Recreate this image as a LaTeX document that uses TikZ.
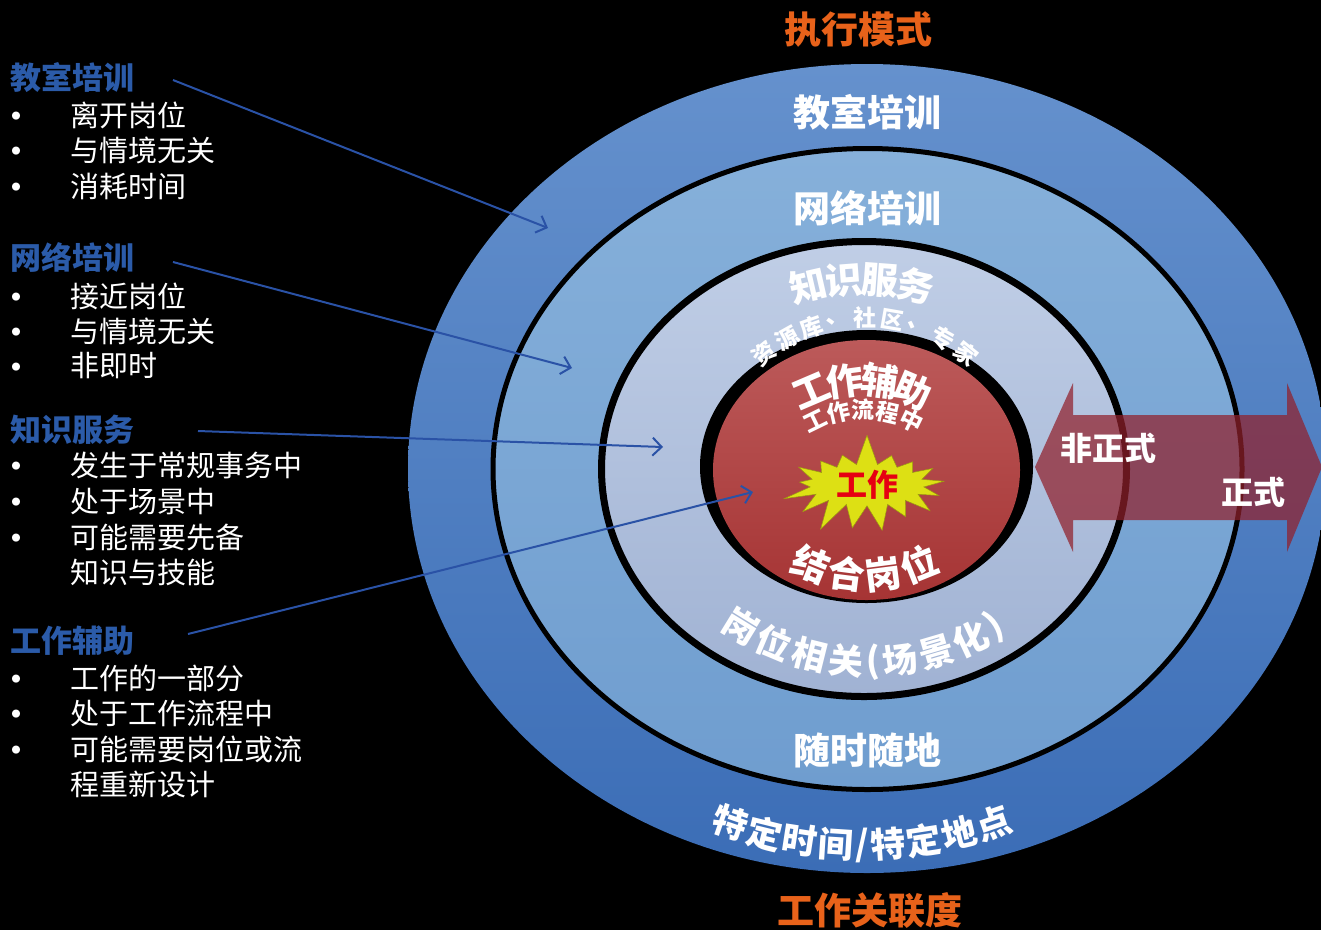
\documentclass[tikz,border=0pt]{standalone}
\usepackage{fontspec}
\setmainfont{Noto Sans CJK SC}
\usetikzlibrary{arrows.meta,shapes.symbols}
\definecolor{titleOrange}{HTML}{E8621A}
\definecolor{headBlue}{HTML}{2B5BA9}
\definecolor{ptrBlue}{HTML}{2A52A6}
\definecolor{ringA1}{HTML}{6591CD}
\definecolor{ringA2}{HTML}{3B6DB6}
\definecolor{ringB1}{HTML}{86B0DA}
\definecolor{ringB2}{HTML}{6F9DCF}
\definecolor{ringC1}{HTML}{C0CEE6}
\definecolor{ringC2}{HTML}{A0B2D3}
\definecolor{core1}{HTML}{BC5A5A}
\definecolor{core2}{HTML}{A63434}
\definecolor{burstY}{HTML}{DDE014}
\definecolor{burstR}{HTML}{E60012}
\definecolor{arrowRed}{RGB}{145,32,43}
\newcommand\fsz[1]{\fontsize{#1}{#1}\selectfont}
\tikzset{
  ringtxt/.style={text=white, inner sep=0pt, font=\bfseries\fsz{37}},
  midtxt/.style={text=white, inner sep=0pt, font=\bfseries\fsz{35}},
  smalltxt/.style={text=white, inner sep=0pt, font=\bfseries\fsz{23}},
  arrtxt/.style={text=white, inner sep=0pt, font=\bfseries\fsz{32}},
  titletxt/.style={text=titleOrange, inner sep=0pt, font=\bfseries\fsz{37}},
  headtxt/.style={text=headBlue, inner sep=0pt, anchor=west, font=\bfseries\fsz{31}},
  itemtxt/.style={text=white, inner sep=0pt, anchor=west, font=\fsz{29}},
  bullettxt/.style={text=white, inner sep=0pt, font=\fsz{9}},
  ptr/.style={draw=ptrBlue, line width=2pt, -{Straight Barb[length=9pt,width=18pt]}},
}
% characters along the top of an ellipse arc (cx, cy, a, b, style, name, list char/angle)
\newcommand\arcTop[7]{%
  \foreach \cc/\ang [count=\k] in {#7}{%
    \pgfmathsetmacro\px{#1+#3*cos(\ang)}%
    \pgfmathsetmacro\py{#2+#4*sin(\ang)}%
    \pgfmathsetmacro\rot{atan2(-(#4)*cos(\ang),-(#3)*sin(\ang))}%
    \node[#5,rotate=\rot] (#6\k) at (\px,\py) {\cc};}}
% characters along the bottom of an ellipse arc
\newcommand\arcBot[7]{%
  \foreach \cc/\ang [count=\k] in {#7}{%
    \pgfmathsetmacro\px{#1+#3*cos(\ang)}%
    \pgfmathsetmacro\py{#2+#4*sin(\ang)}%
    \pgfmathsetmacro\rot{atan2((#4)*cos(\ang),(#3)*sin(\ang))}%
    \node[#5,rotate=\rot] (#6\k) at (\px,\py) {\cc};}}
\begin{document}
\begin{tikzpicture}[x=1pt,y=-1pt]
\useasboundingbox (0,0) rectangle (1321,930);
\fill[black] (0,0) rectangle (1321,930);
\clip (0,0) rectangle (1321,930);

% rings
\shade[top color=ringA1, bottom color=ringA2] (867,468.5) ellipse [x radius=459, y radius=404.5];
\draw[black, line width=5pt, top color=ringB1, bottom color=ringB2] (867.5,469) ellipse [x radius=374.5, y radius=320.5];
\draw[black, line width=7pt, top color=ringC1, bottom color=ringC2] (864,469) ellipse [x radius=262.5, y radius=227.5];
\fill[black] (866.5,466.5) ellipse [x radius=166.5, y radius=136.5];
\shade[top color=core1, bottom color=core2] (866.5,470) ellipse [x radius=153.5, y radius=130];

% starburst
\node[starburst, starburst points=17, starburst point height=32pt, random starburst=7,
      fill=burstY, draw=burstY!70!black, line width=0.5pt,
      minimum width=178pt, minimum height=94pt, inner sep=0pt,
      text=burstR, font=\bfseries\fsz{31}] (burst) at (867,485) {工作};

% texts in the rings
\node[ringtxt] (t1) at (867,112) {教室培训};
\node[ringtxt] (t2) at (867,208) {网络培训};
\node[ringtxt] (t3) at (867,750) {随时随地};
\arcTop{862}{520}{240}{240}{ringtxt}{ks}{知/257.1,识/265.7,服/274.3,务/282.9}
\arcTop{865}{478}{160}{160}{smalltxt}{zy}{资/231,源/240.75,库/250.5,、/260.25,社/270,区/279.75,、/289.5,专/299.25,家/309}
\arcTop{862}{510}{130}{130}{ringtxt}{gf}{工/246.9,作/262.3,辅/277.7,助/293.1}
\arcTop{863}{520}{110}{110}{smalltxt}{lc}{工/244,作/257,流/270,程/283,中/296}
\arcBot{865}{430}{145}{145}{ringtxt}{jh}{结/111.9,合/97.3,岗/82.7,位/68.1}
\arcBot{868}{420}{242}{242}{midtxt}{gw}{岗/121.6,位/112.8,相/104,关/95.2,{(}/88.8,场/82.4,景/73.6,化/64.8,{)}/58.4}
\arcBot{862}{440}{405}{405}{midtxt}{td}{特/109,定/103.9,时/98.8,间/93.7,{/}/90,特/86.3,定/81.2,地/76.1,点/71}

% double arrow
\fill[arrowRed, opacity=0.72] (1035,467) -- (1073,383) -- (1073,415) -- (1287,415) -- (1287,383)
  -- (1322,467) -- (1287,552) -- (1287,520) -- (1073,520) -- (1073,552) -- cycle;
\node[arrtxt] (inf) at (1108,448) {非正式};
\node[arrtxt] (frm) at (1253,492) {正式};

% titles
\node[titletxt] (top) at (858,30) {执行模式};
\node[titletxt] (bot) at (870,910) {工作关联度};

% left column
\node[headtxt] (h1) at (10,78) {教室培训};
\node[itemtxt] (i11) at (70,115) {离开岗位};
\node[itemtxt] (i12) at (70,150) {与情境无关};
\node[itemtxt] (i13) at (70,186) {消耗时间};
\node[headtxt] (h2) at (10,258) {网络培训};
\node[itemtxt] (i21) at (70,296) {接近岗位};
\node[itemtxt] (i22) at (70,331) {与情境无关};
\node[itemtxt] (i23) at (70,366) {非即时};
\node[headtxt] (h3) at (10,430) {知识服务};
\node[itemtxt] (i31) at (70,465) {发生于常规事务中};
\node[itemtxt] (i32) at (70,501) {处于场景中};
\node[itemtxt] (i33) at (70,537) {可能需要先备};
\node[itemtxt] (i34) at (70,572) {知识与技能};
\node[headtxt] (h4) at (10,641) {工作辅助};
\node[itemtxt] (i41) at (70,678) {工作的一部分};
\node[itemtxt] (i42) at (70,713) {处于工作流程中};
\node[itemtxt] (i43) at (70,749) {可能需要岗位或流};
\node[itemtxt] (i44) at (70,784) {程重新设计};
\foreach \yy [count=\n] in {116,151,187,297,332,367,466,502,538,679,714,750}
  \node[bullettxt] (b\n) at (16,\yy) {●};

% pointers
\coordinate (p1s) at (173,80);  \coordinate (p1e) at (548,228);
\coordinate (p2s) at (173,262); \coordinate (p2e) at (572,368);
\coordinate (p3s) at (198,431); \coordinate (p3e) at (663,447);
\coordinate (p4s) at (188,634); \coordinate (p4e) at (753,492);
\draw[ptr] (p1s) -- (p1e);
\draw[ptr] (p2s) -- (p2e);
\draw[ptr] (p3s) -- (p3e);
\draw[ptr] (p4s) -- (p4e);
\end{tikzpicture}
\end{document}
